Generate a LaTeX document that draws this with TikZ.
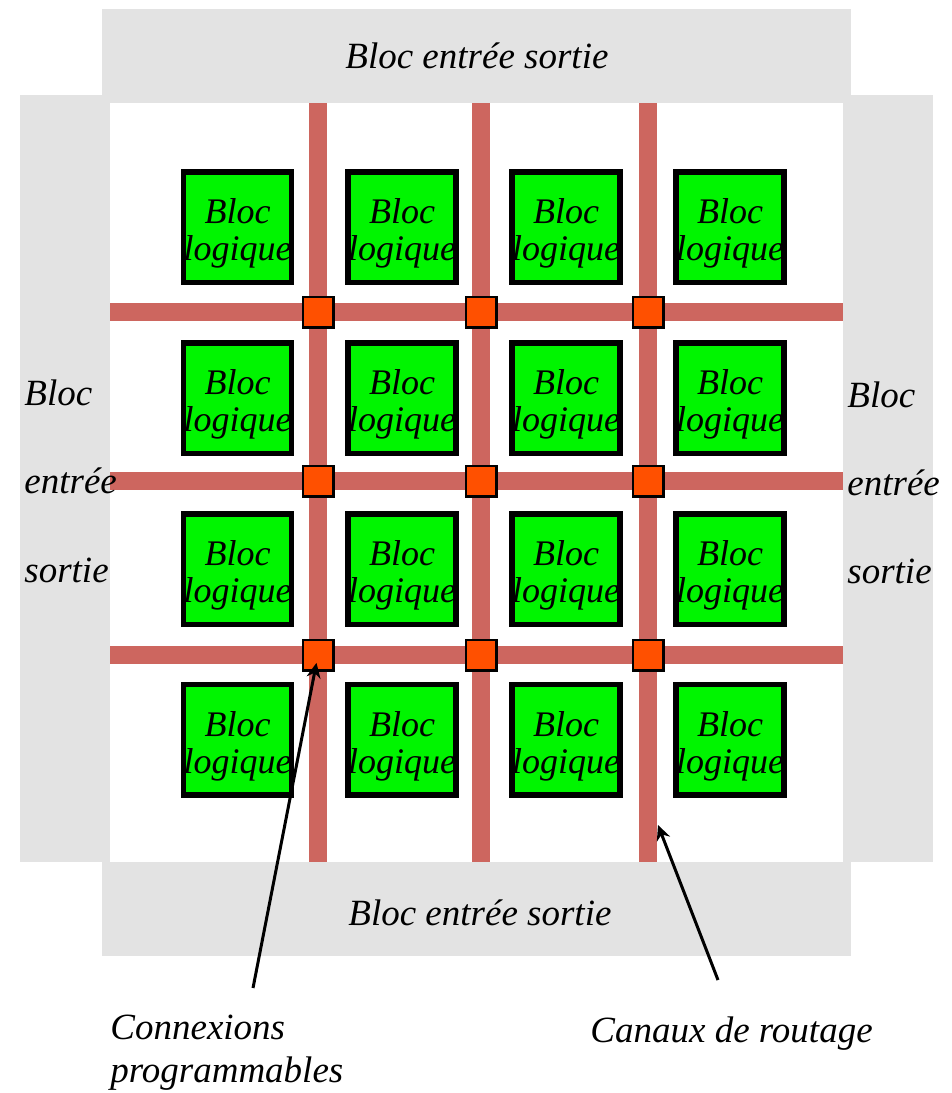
\documentclass[tikz,border=0pt]{standalone}
\usepackage{fontspec}
\setmainfont{Liberation Serif}
\usetikzlibrary{arrows.meta}

\definecolor{gris}{RGB}{227,227,227}
\definecolor{canalcol}{RGB}{205,102,95}
\definecolor{vertbloc}{RGB}{0,245,0}
\definecolor{connexcol}{RGB}{255,80,0}

% text of one logic block, pushed a little down
\newcommand{\bloclog}{\rule{0pt}{19pt}Bloc\\logique}

\tikzset{
	texte/.style={font=\itshape\fontsize{18.5}{18.5}\selectfont, inner sep=0pt},
	bloc/.style={font=\itshape\fontsize{18}{18.5}\selectfont, inner sep=0pt,
		draw=black, line width=2.75pt, fill=vertbloc,
		minimum width=52.75pt, minimum height=55.25pt, align=center},
	connex/.style={draw=black, line width=1.25pt, fill=connexcol, minimum size=15.25pt, inner sep=0pt},
	canal/.style={draw=canalcol, line width=9pt},
	fleche/.style={line width=1.5pt, -{Stealth[length=7.5pt,width=7pt]}}
}

\begin{document}
\begin{tikzpicture}[x=0.5pt,y=-0.5pt]
		\useasboundingbox (0,0) rectangle (952,1093);
		% entree sortie boxes
		\fill[gris] (102,9) rectangle (851,103);
		\fill[gris] (102,862) rectangle (851,956);
		\fill[gris] (20,95) rectangle (110,862);
		\fill[gris] (843,95) rectangle (933,862);
		% routing channels
		\draw[canal] (318,103) -- (318,862);
		\draw[canal] (481,103) -- (481,862);
		\draw[canal] (648,103) -- (648,862);
		\draw[canal] (110,312) -- (843,312);
		\draw[canal] (110,481) -- (843,481);
		\draw[canal] (110,655) -- (843,655);
		% switches
		\node[connex] (c11) at (318,312) {};
		\node[connex] (c12) at (481,312) {};
		\node[connex] (c13) at (648,312) {};
		\node[connex] (c21) at (318,481) {};
		\node[connex] (c22) at (481,481) {};
		\node[connex] (c23) at (648,481) {};
		\node[connex] (c31) at (318,655) {};
		\node[connex] (c32) at (481,655) {};
		\node[connex] (c33) at (648,655) {};
		% logic blocks, row by row
		\node[bloc] (b11) at (237.5,227) {\bloclog};
		\node[bloc] (b12) at (402,227) {\bloclog};
		\node[bloc] (b13) at (566,227) {\bloclog};
		\node[bloc] (b14) at (730,227) {\bloclog};
		%
		\node[bloc] (b21) at (237.5,398) {\bloclog};
		\node[bloc] (b22) at (402,398) {\bloclog};
		\node[bloc] (b23) at (566,398) {\bloclog};
		\node[bloc] (b24) at (730,398) {\bloclog};
		%
		\node[bloc] (b31) at (237.5,569) {\bloclog};
		\node[bloc] (b32) at (402,569) {\bloclog};
		\node[bloc] (b33) at (566,569) {\bloclog};
		\node[bloc] (b34) at (730,569) {\bloclog};
		%
		\node[bloc] (b41) at (237.5,739.5) {\bloclog};
		\node[bloc] (b42) at (402,739.5) {\bloclog};
		\node[bloc] (b43) at (566,739.5) {\bloclog};
		\node[bloc] (b44) at (730,739.5) {\bloclog};
		% io labels
		\node[texte, anchor=base west] (haut) at (345,68) {Bloc entrée sortie};
		\node[texte, anchor=base west] (bas) at (348,925) {Bloc entrée sortie};
		\node[texte, anchor=base west] (g1) at (24,405) {Bloc};
		\node[texte, anchor=base west] (g2) at (24,493) {entrée};
		\node[texte, anchor=base west] (g3) at (24,582) {sortie};
		\node[texte, anchor=base west] (d1) at (847,407) {Bloc};
		\node[texte, anchor=base west] (d2) at (847,495) {entrée};
		\node[texte, anchor=base west] (d3) at (847,583) {sortie};
		% legend
		\node[texte, anchor=base west] (lconnex) at (110,1039) {Connexions};
		\node[texte, anchor=base west] (lprog) at (110,1082) {programmables};
		\node[texte, anchor=base west] (lcanaux) at (590,1042) {Canaux de routage};
		\coordinate (pconnex) at (253,988);
		\coordinate (pcanaux) at (718,980);
		\coordinate (v3) at (658,825);
		\draw[fleche, shorten >=4pt] (pconnex) -- (c31.center);
		\draw[fleche] (pcanaux) -- (v3);
	\end{tikzpicture}
\end{document}
